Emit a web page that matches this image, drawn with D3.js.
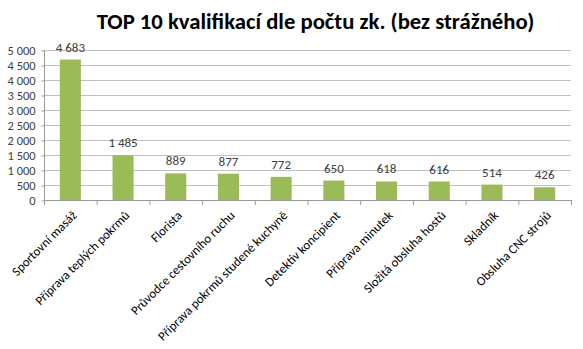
<!DOCTYPE html>
<html><head><meta charset="utf-8">
<script src="https://cdn.jsdelivr.net/npm/d3@7"></script>
<style>body{margin:0;background:#fff}svg{display:block}</style>
</head><body>
<svg id="c" width="583" height="349"></svg>
<script>
const categories = ["Sportovní masáž","Příprava teplých pokrmů","Florista","Průvodce cestovního ruchu","Příprava pokrmů studené kuchyně","Detektiv koncipient","Příprava minutek","Složitá obsluha hostů","Skladník","Obsluha CNC strojů"];
const values = [4683,1485,889,877,772,650,618,616,514,426];
const yTicks = [0,500,1000,1500,2000,2500,3000,3500,4000,4500,5000];
const title = "TOP 10 kvalifikací dle počtu zk. (bez strážného)";

const svg = d3.select("#c");
const font = "Calibri, Carlito, 'Open Sans', sans-serif";
const L = 44, R = 571, T = 50, B = 200;
const x = d3.scaleBand().domain(categories).range([L, R]).paddingInner(0.6).paddingOuter(0.3);
const y = d3.scaleLinear().domain([0, 5000]).range([B, T]);
const fmt = v => d3.format(",")(v).replace(/,/g, " ");

svg.append("text").attr("x", 315.5).attr("y", 29).attr("text-anchor", "middle")
  .attr("font-family", font).attr("font-weight", "bold").attr("font-size", 22.7).attr("fill", "#000").text(title);

// gridlines
svg.append("g").selectAll("line").data(yTicks.filter(d => d > 0)).join("line")
  .attr("x1", L).attr("x2", R).attr("y1", d => y(d) + 0.5).attr("y2", d => y(d) + 0.5)
  .attr("stroke", "#bfbfbf").attr("stroke-width", 1);

// y axis
const ya = svg.append("g").attr("transform", `translate(${L + 0.5},0.5)`)
  .call(d3.axisLeft(y).tickValues(yTicks).tickSize(3).tickPadding(6).tickFormat(fmt));
ya.selectAll("path,line").attr("stroke", "#9a9a9a");
ya.select(".domain").attr("d", `M0,${T}V${B}`);
ya.selectAll("text").attr("font-family", font).attr("font-size", 12.4).attr("fill", "#404040");

// bars
svg.append("g").selectAll("rect").data(values).join("rect")
  .attr("x", (d, i) => x(categories[i])).attr("width", x.bandwidth())
  .attr("y", d => y(d)).attr("height", d => B - y(d)).attr("fill", "#9bbb59");

// value labels
svg.append("g").selectAll("text").data(values).join("text")
  .attr("x", (d, i) => x(categories[i]) + x.bandwidth() / 2).attr("y", d => y(d) - 8)
  .attr("text-anchor", "middle").attr("font-family", font).attr("font-size", 13).attr("fill", "#404040")
  .text(fmt);

// x axis
const step = (R - L) / categories.length;
const xa = svg.append("g");
xa.append("line").attr("x1", L).attr("x2", R).attr("y1", B + 0.5).attr("y2", B + 0.5).attr("stroke", "#9a9a9a");
xa.selectAll("line.t").data(d3.range(categories.length + 1)).join("line").attr("class", "t")
  .attr("x1", i => L + i * step + 0.5).attr("x2", i => L + i * step + 0.5).attr("y1", B).attr("y2", B + 5).attr("stroke", "#9a9a9a");
xa.selectAll("text").data(categories).join("text")
  .attr("transform", d => `translate(${x(d) + x.bandwidth() / 2 + 4},${B + 13}) rotate(-45)`)
  .attr("text-anchor", "end").attr("dy", "0.35em").attr("font-family", font).attr("font-size", 12.8).attr("fill", "#000")
  .text(d => d);
</script>
</body></html>
